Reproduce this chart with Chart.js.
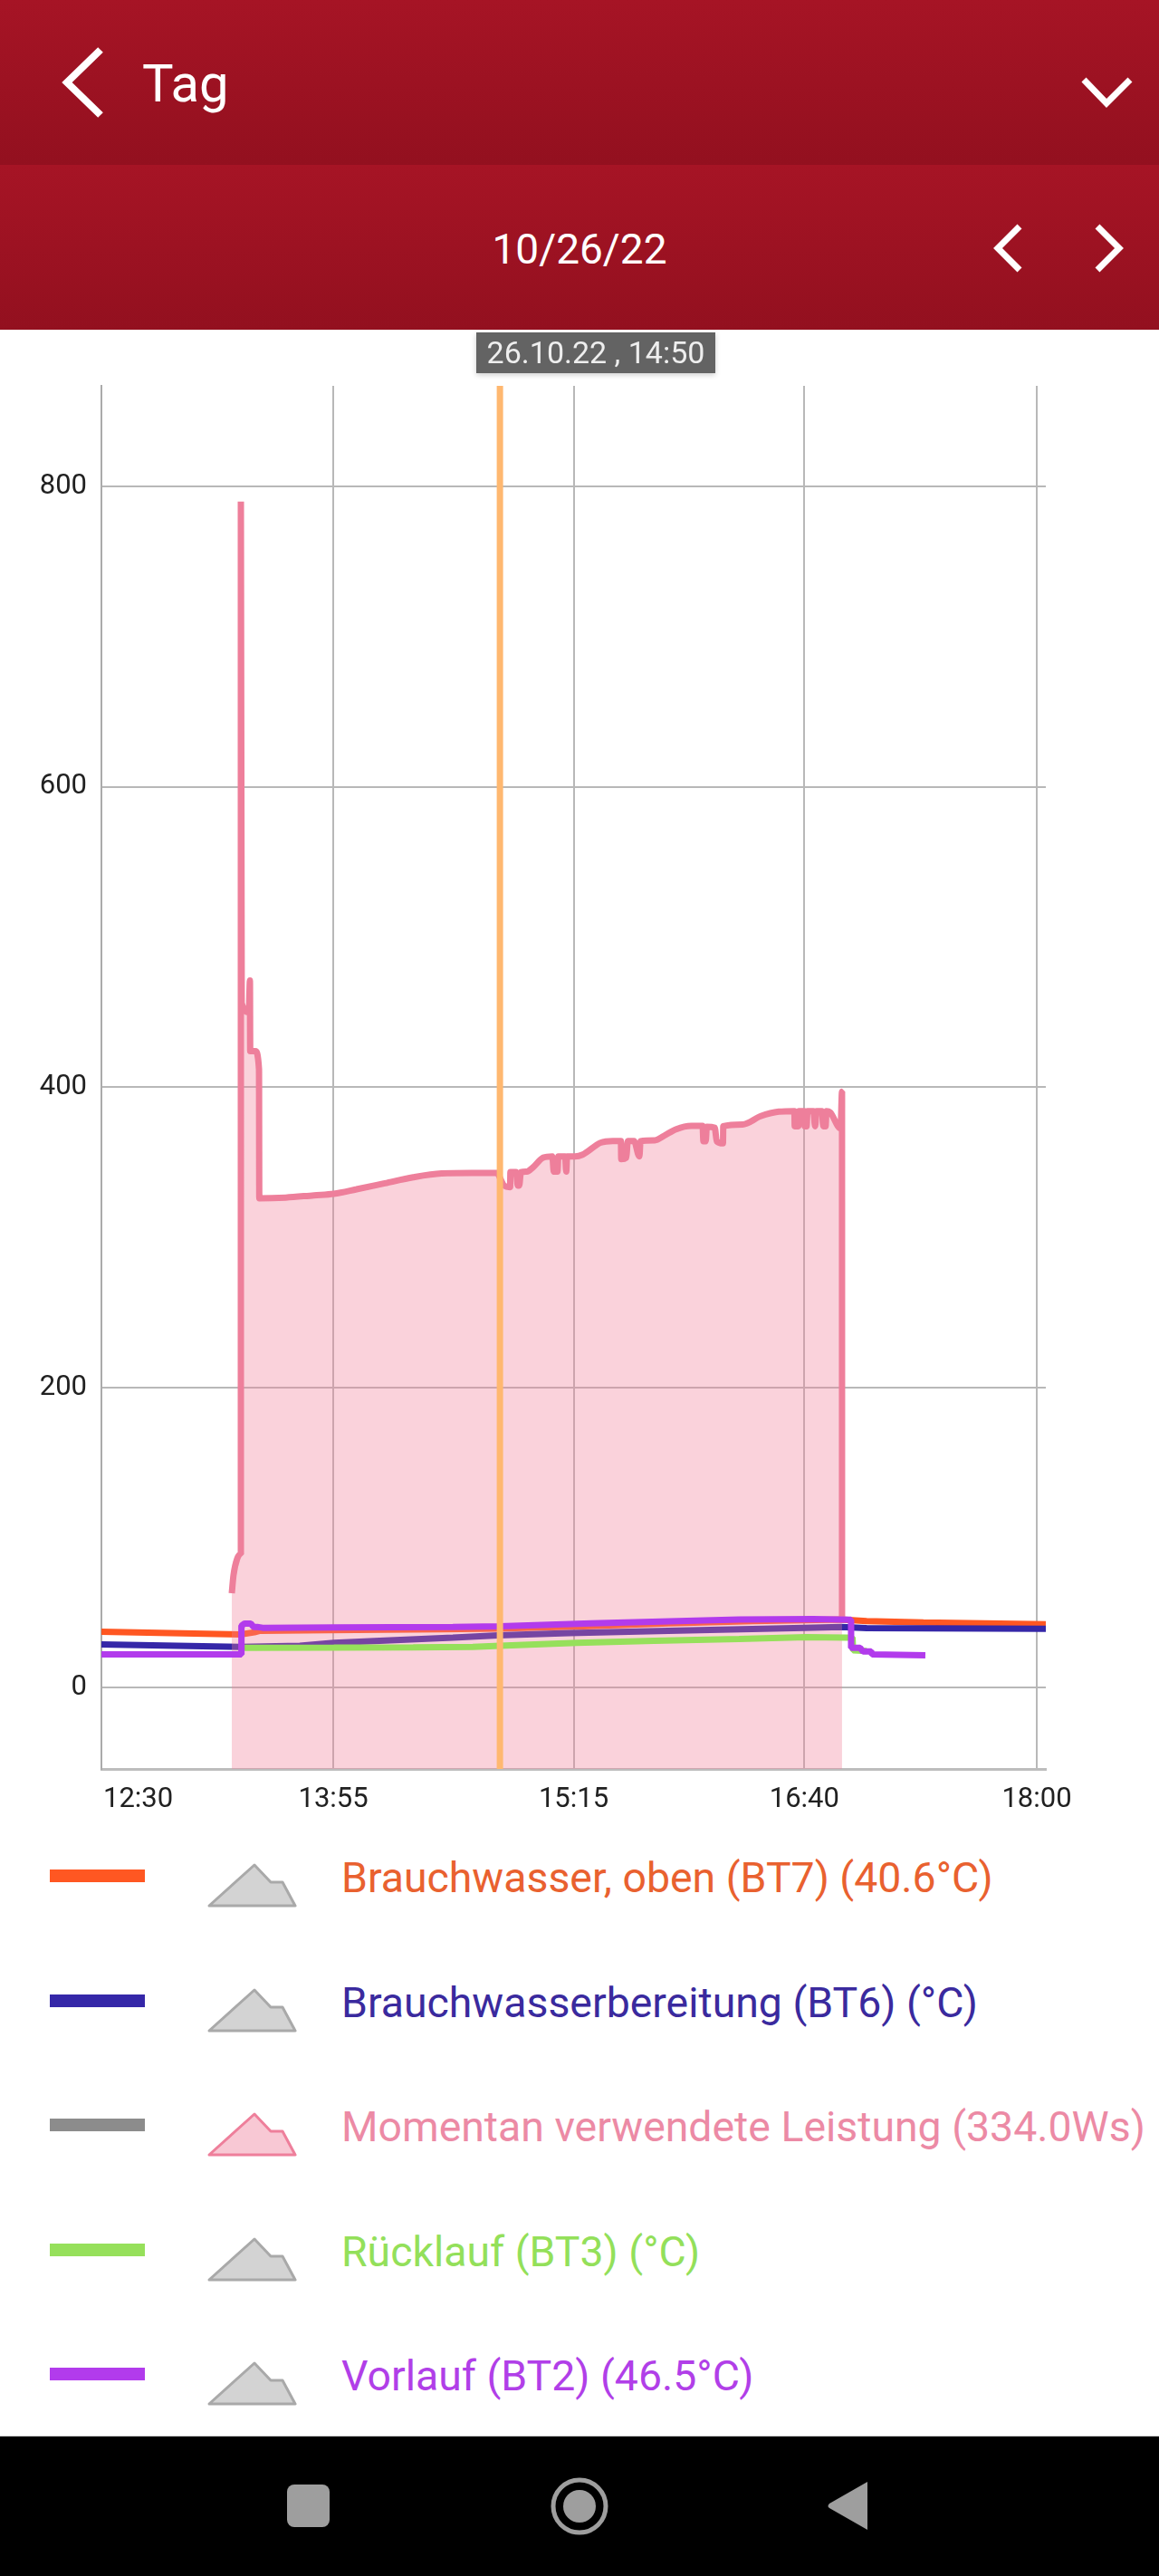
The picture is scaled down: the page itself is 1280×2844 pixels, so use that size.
<!DOCTYPE html>
<html>
<head>
<meta charset="utf-8">
<title>Tag</title>
<script src="https://cdn.jsdelivr.net/npm/chart.js@4"></script>
<style>
  html, body { margin: 0; padding: 0; background: #fff; }
  body { position: relative; width: 1280px; height: 2844px; overflow: hidden; font-family: Roboto, sans-serif; }
  .band { position: absolute; left: 0; width: 1280px; height: 182px; background: linear-gradient(#a61425, #93101f); }
  .title { position: absolute; left: 157px; top: 59px; font-size: 58px; line-height: 66px; color: #fff; }
  .date { position: absolute; left: 0; width: 1280px; top: 248px; font-size: 46px; line-height: 54px; color: #fff; text-align: center; }
  .icon { position: absolute; left: 0; top: 0; }
  .stamp { position: absolute; left: 526px; top: 367px; width: 264px; height: 45px; background: #636363; color: #eee; font-size: 34px; line-height: 45px; text-align: center; box-shadow: 0 2px 6px rgba(0,0,0,.2); }
  #chartBox { position: absolute; left: 0; top: 364px; }
  .row-line { position: absolute; left: 55px; width: 105px; height: 14px; }
  .row-text { position: absolute; left: 377px; font-size: 46.4px; line-height: 54px; white-space: nowrap; }
  .navbar { position: absolute; left: 0; top: 2689px; width: 1280px; height: 155px; background: #000; border-top: 1px solid #ccc; box-sizing: border-box; }
</style>
</head>
<body>
<div class="band" style="top:0"></div>
<div class="band" style="top:182px"></div>
<div class="title">Tag</div>
<div class="date">10/26/22</div>
<svg class="icon" width="1280" height="364" fill="none" stroke="#fff" stroke-width="7">
  <path d="M111 55 L74 91 L111 127" stroke-width="8"/>
  <path d="M1197 88 L1222 114 L1248 88"/>
  <path d="M1126 250 L1102 274 L1126 298"/>
  <path d="M1212 250 L1236 274 L1212 298"/>
</svg>
<div id="chartBox"><canvas id="myChart" width="1280" height="1636"></canvas></div>
<div class="stamp">26.10.22 , 14:50</div>
<div id="legendRows"></div>
<div class="navbar"></div>
<svg class="icon" style="top:2689px" width="1280" height="155" fill="#9e9e9e">
  <rect x="317" y="54" width="47" height="47" rx="8"/>
  <circle cx="640" cy="78" r="29" fill="none" stroke="#9e9e9e" stroke-width="5"/>
  <circle cx="640" cy="78" r="18"/>
  <path d="M958 51 L958 104 L916 80 Q913 78 916 75 Z"/>
</svg>

<script>
const seriesNames = ["Brauchwasser, oben (BT7) (40.6°C)", "Brauchwasserbereitung (BT6) (°C)", "Momentan verwendete Leistung (334.0Ws)", "Rücklauf (BT3) (°C)", "Vorlauf (BT2) (46.5°C)"]
const lineColors = ["#ff5722", "#3527a8", "#ee7f9b", "#96e05b", "#b23bec"]
const legendLineColors = ["#ff5722", "#3527a8", "#8c8c8c", "#96e05b", "#b23bec"]
const textColors = ["#e9612f", "#3a2a9e", "#ec8aa5", "#93e05a", "#b13fe8"]

// minutes since midnight
const xTickValues = [750, 831.8, 916.6, 998, 1080]
const xTickLabels = ["12:30", "13:55", "15:15", "16:40", "18:00"]
const yTickValues = [0, 200, 400, 600, 800]

const upperTankX = [750, 799, 804, 806, 830, 870, 890, 920, 950, 980, 1011, 1020, 1040, 1083.2]
const upperTankY = [37.4, 35.6, 37, 38, 38.4, 39, 39.5, 41, 43, 44.5, 45.5, 44.5, 43.5, 42.3]

const hotWaterX = [750, 799, 820, 832, 850, 874, 890, 915, 950, 998, 1011, 1020, 1083.2]
const hotWaterY = [29, 27.2, 28, 30, 31.5, 33.5, 35, 36.5, 38, 40, 40.5, 39.8, 39.3]

const powerX = [796, 796.6, 797.9, 799.2, 799.2, 799.5, 802, 802.4, 802.5, 804.3, 805.6, 805.7, 815, 825, 832, 840, 850, 860, 870, 880.4, 889.4, 892.1, 894.2, 894.3, 896.3, 896.9, 897.4, 898, 900.1, 902.2, 905.9, 909.1, 909.6, 910.9, 911.2, 913.6, 914, 914.3, 917.1, 919.8, 926.1, 930.4, 933.3, 933.4, 935.2, 935.7, 937.9, 939.8, 940.2, 945.3, 948.5, 952.8, 958.1, 962.1, 962.4, 963.2, 963.6, 966.4, 967.1, 969.3, 969.4, 976.2, 982.6, 989, 994.5, 994.6, 995.9, 996.1, 998, 998.1, 998.8, 999.1, 1001.2, 1001.8, 1002.3, 1004.2, 1004.7, 1005.5, 1005.8, 1007.1, 1010.8, 1011.3, 1011.3]
const powerY = [63, 75, 86, 89, 790, 456, 450, 471, 424, 424, 412, 326, 326.5, 328, 329, 332, 336, 340, 342.5, 342.8, 342.8, 334.4, 333.4, 343.4, 343.4, 334.4, 334.4, 343.4, 343.8, 346.5, 353.1, 353.9, 343.8, 343.8, 353.9, 353.9, 343.8, 353.9, 353.9, 355.1, 363, 364.2, 364.2, 352.1, 353.1, 364.2, 364.2, 353.9, 364, 364.6, 367.6, 372, 374.2, 374.2, 364, 364, 373.6, 373, 364, 362.6, 374, 375.2, 380.7, 383.7, 384.1, 374, 374, 384.1, 384.1, 374, 374, 384.1, 384.1, 374, 384.1, 384.1, 374, 374, 384.1, 383.3, 372.6, 397, 45]

const returnX = [800.5, 832, 860, 881, 890.6, 917.7, 945, 975, 998.5, 1013, 1015, 1015.2, 1020]
const returnY = [26.6, 26.8, 27, 27.3, 28, 30, 31.3, 32.5, 33.8, 33.5, 33.5, 25, 24.5]

const flowX = [750, 799.4, 799.4, 800.5, 802.7, 803.7, 805, 806.9, 832, 874, 890.6, 922.8, 975, 1001, 1014.5, 1014.5, 1017.7, 1018.7, 1021.6, 1021.9, 1040.7]
const flowY = [22.3, 22.3, 41.4, 42.8, 42.8, 40.5, 40.5, 40, 40.2, 40.5, 41, 43, 45.5, 45.8, 45.4, 26.6, 26.6, 24.2, 24.2, 22.3, 21.7]

const cursorX = [890.6, 890.6]
const cursorY = [-54, 867]

const xValues = [upperTankX, hotWaterX, powerX, returnX, flowX]
const yValues = [upperTankY, hotWaterY, powerY, returnY, flowY]

const tickFont = { family: "Roboto", size: 31 }

function toPoints(xs, ys) {
  return xs.map((x, i) => ({ x: x, y: ys[i] }))
}

// first label sits inside the plot, like the app does it
const xLabelsPlugin = {
  id: "xLabels",
  afterDraw(chart) {
    const ctx = chart.ctx
    const scale = chart.scales.x
    ctx.save()
    ctx.font = tickFont.size + "px " + tickFont.family
    ctx.fillStyle = "#212121"
    ctx.textBaseline = "middle"
    ctx.textAlign = "left"
    xTickValues.forEach((value, i) => {
      const width = ctx.measureText(xTickLabels[i]).width
      const left = Math.max(chart.chartArea.left + 2, scale.getPixelForValue(value) - width / 2)
      ctx.fillText(xTickLabels[i], left, chart.chartArea.bottom + 34)
    })
    ctx.restore()
  }
}

const datasets = seriesNames.map((name, i) => ({
  label: name,
  data: toPoints(xValues[i], yValues[i]),
  borderColor: lineColors[i],
  backgroundColor: "rgba(241,126,152,.35)",
  borderWidth: 7,
  borderJoinStyle: "bevel",
  pointRadius: 0,
  cubicInterpolationMode: i === 2 ? "monotone" : "default",
  tension: i === 2 ? 0.4 : 0,
  fill: i === 2 ? "start" : false,
  order: 10 - i
}))

datasets.unshift({
  label: "cursor",
  data: toPoints(cursorX, cursorY),
  borderColor: "#ffb870",
  borderWidth: 7,
  pointRadius: 0,
  fill: false,
  order: 0
})

new Chart("myChart", {
  type: "line",
  data: { datasets: datasets },
  plugins: [xLabelsPlugin],
  options: {
    responsive: false,
    animation: false,
    layout: { padding: { left: 0, top: 62, right: 125, bottom: 0 } },
    plugins: { legend: { display: false }, tooltip: { enabled: false } },
    scales: {
      x: {
        type: "linear",
        min: 750,
        max: 1083.2,
        afterBuildTicks: scale => { scale.ticks = xTickValues.map(v => ({ value: v })) },
        afterFit: scale => { scale.height = 47 },
        grid: { color: "#b8b8b8", lineWidth: 2, drawTicks: false },
        border: { color: "#bdbdbd", width: 3 },
        ticks: { display: false }
      },
      y: {
        min: -54,
        max: 867,
        afterBuildTicks: scale => { scale.ticks = yTickValues.map(v => ({ value: v })) },
        afterFit: scale => { scale.width = 112 },
        grid: { color: "#b8b8b8", lineWidth: 2, drawTicks: false },
        border: { color: "#ababab", width: 2 },
        ticks: { color: "#212121", font: tickFont, padding: 16 }
      }
    }
  }
})

const rowCenters = [2071, 2208.5, 2346, 2483.5, 2621]
const legendRows = document.getElementById("legendRows")
seriesNames.forEach((name, i) => {
  const center = rowCenters[i]
  const fill = i === 2 ? "#f8c8d4" : "#d3d3d3"
  const stroke = i === 2 ? "#ee7f9b" : "#a9a9a9"
  legendRows.insertAdjacentHTML("beforeend",
    '<div class="row-line" style="top:' + (center - 7) + 'px;background:' + legendLineColors[i] + '"></div>' +
    '<svg class="icon" style="left:229px;top:' + (center - 14) + 'px" width="100" height="50"><path d="M2 47 L52 2 L70 21 L83 21 L97 47 Z" fill="' + fill + '" stroke="' + stroke + '" stroke-width="3" stroke-linejoin="round"/></svg>' +
    '<div class="row-text" style="top:' + (center - 25) + 'px;color:' + textColors[i] + '">' + name + '</div>')
})
</script>
</body>
</html>
